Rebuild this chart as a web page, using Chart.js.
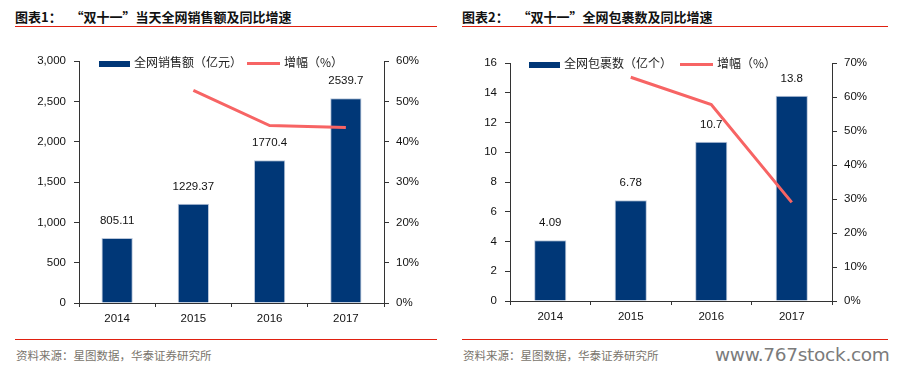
<!DOCTYPE html>
<html lang="zh">
<head>
<meta charset="UTF-8">
<title>双十一 全网销售额与包裹数</title>
<script src="https://cdn.jsdelivr.net/npm/chart.js"></script>
<style>
    body {
        margin: 0;
        width: 903px;
        height: 374px;
        background: #fff;
        position: relative;
        overflow: hidden;
        font-family: "Liberation Sans", Arial, sans-serif;
    }
    .title {
        position: absolute;
        top: 7px;
        font-family: "Noto Sans CJK SC", sans-serif;
        font-weight: bold;
        font-size: 13px;
        color: #111;
        white-space: pre;
    }
    .rule {
        position: absolute;
        height: 1px;
        background: #e02010;
    }
    .source {
        position: absolute;
        top: 347px;
        font-family: "Noto Sans CJK SC", sans-serif;
        font-size: 11.5px;
        color: #7a756c;
    }
    .box {
        position: absolute;
        top: 40px;
        width: 430px;
        height: 290px;
    }
    .legend {
        position: absolute;
        font-family: "Noto Sans CJK SC", sans-serif;
        font-size: 12px;
        color: #222;
        line-height: 14px;
        white-space: nowrap;
    }
    .sw-bar { display: inline-block; width: 31px; height: 6px; background: #003777; vertical-align: middle; margin-right: 4px; }
    .sw-line { display: inline-block; width: 33px; height: 3px; background: #f76464; vertical-align: middle; margin-right: 4px; }
    .mark {
        position: absolute;
        left: 715px;
        top: 344px;
        font-family: "DejaVu Sans", sans-serif;
        font-size: 18.5px;
        color: #7b7b7b;
        letter-spacing: -0.3px;
    }
</style>
</head>
<body>

<div class="title" style="left:15px">图表1：   “双十一”当天全网销售额及同比增速</div>
<div class="rule" style="left:15px; width:422px; top:26px"></div>
<div class="title" style="left:462px">图表2：   “双十一”全网包裹数及同比增速</div>
<div class="rule" style="left:462px; width:426px; top:26px"></div>

<div class="box" style="left:15px"><canvas id="salesChart" width="430" height="290"></canvas></div>
<div class="box" style="left:462px"><canvas id="parcelChart" width="430" height="290"></canvas></div>

<div class="legend" style="left:99px; top:55px"><span class="sw-bar"></span>全网销售额（亿元）</div>
<div class="legend" style="left:247px; top:55px"><span class="sw-line"></span>增幅（%）</div>
<div class="legend" style="left:529px; top:56px"><span class="sw-bar"></span>全网包裹数（亿个）</div>
<div class="legend" style="left:680px; top:56px"><span class="sw-line"></span>增幅（%）</div>

<div class="rule" style="left:15px; width:422px; top:339px"></div>
<div class="rule" style="left:462px; width:426px; top:339px"></div>
<div class="source" style="left:16px">资料来源：星图数据，华泰证券研究所</div>
<div class="source" style="left:463px">资料来源：星图数据，华泰证券研究所</div>
<div class="mark">www.767stock.com</div>

<script>
    // 数据
    const years = ['2014', '2015', '2016', '2017'];
    const salesValues = [805.11, 1229.37, 1770.4, 2539.7];
    const salesGrowth = [null, 52.7, 44.0, 43.5];
    const salesLabels = ['805.11', '1229.37', '1770.4', '2539.7'];
    const parcelValues = [4.09, 6.78, 10.7, 13.8];
    const parcelGrowth = [null, 65.8, 57.8, 29.0];
    const parcelLabels = ['4.09', '6.78', '10.7', '13.8'];

    const barColor = '#003777';
    const lineColor = '#f76464';
    const axisColor = '#333';
    const tickFont = { family: '"Liberation Sans", Arial, sans-serif', size: 11.5 };

    // 柱子上方的数值
    const barLabels = {
        id: 'barLabels',
        afterDatasetsDraw(chart) {
            const ctx = chart.ctx;
            const meta = chart.getDatasetMeta(1);
            const texts = chart.options.plugins.barLabels.texts;
            ctx.save();
            ctx.font = '11.5px "Liberation Sans", Arial, sans-serif';
            ctx.fillStyle = '#111';
            ctx.textAlign = 'center';
            ctx.textBaseline = 'middle';
            meta.data.forEach((bar, i) => {
                ctx.fillText(texts[i], bar.x, bar.y - 17);
            });
            ctx.restore();
        }
    };

    function makeChart(id, cfg) {
        return new Chart(document.getElementById(id).getContext('2d'), {
            type: 'bar',
            data: {
                labels: years,
                datasets: [{
                    type: 'line',
                    data: cfg.growth,
                    yAxisID: 'y1',
                    borderColor: lineColor,
                    borderWidth: 3,
                    pointRadius: 0,
                    fill: false,
                    order: 0
                }, {
                    type: 'bar',
                    data: cfg.values,
                    yAxisID: 'y',
                    backgroundColor: barColor,
                    borderColor: '#b9c6da',
                    borderWidth: 1,
                    barPercentage: cfg.barPct,
                    categoryPercentage: 1,
                    order: 1
                }]
            },
            options: {
                responsive: false,
                animation: false,
                layout: { padding: { top: cfg.top, left: 0, right: 0, bottom: 0 } },
                plugins: {
                    legend: { display: false },
                    tooltip: { enabled: false },
                    barLabels: { texts: cfg.labels }
                },
                scales: {
                    x: {
                        grid: { drawOnChartArea: false, tickLength: 4, color: axisColor, offset: true },
                        border: { color: axisColor },
                        ticks: { font: tickFont, color: '#111', padding: 5 },
                        afterFit: s => { s.height = cfg.xHeight; }
                    },
                    y: {
                        position: 'left',
                        min: 0,
                        max: cfg.max,
                        ticks: { stepSize: cfg.step, font: tickFont, color: '#111', padding: 8 },
                        grid: { drawOnChartArea: false, tickLength: 5, color: axisColor },
                        border: { color: axisColor },
                        afterFit: s => { s.width = cfg.leftW; }
                    },
                    y1: {
                        position: 'right',
                        min: 0,
                        max: cfg.pctMax,
                        ticks: { stepSize: 10, font: tickFont, color: '#111', padding: 7, callback: v => v + '%' },
                        grid: { drawOnChartArea: false, tickLength: 5, color: axisColor },
                        border: { color: axisColor },
                        afterFit: s => { s.width = cfg.rightW; }
                    }
                }
            },
            plugins: [barLabels]
        });
    }

    makeChart('salesChart', {
        values: salesValues, growth: salesGrowth, labels: salesLabels,
        max: 3000, step: 500, pctMax: 60, barPct: 0.41,
        top: 21, xHeight: 27, leftW: 64, rightW: 61
    });

    makeChart('parcelChart', {
        values: parcelValues, growth: parcelGrowth, labels: parcelLabels,
        max: 16, step: 2, pctMax: 70, barPct: 0.40,
        top: 23, xHeight: 29, leftW: 48, rightW: 60
    });
</script>
</body>
</html>
